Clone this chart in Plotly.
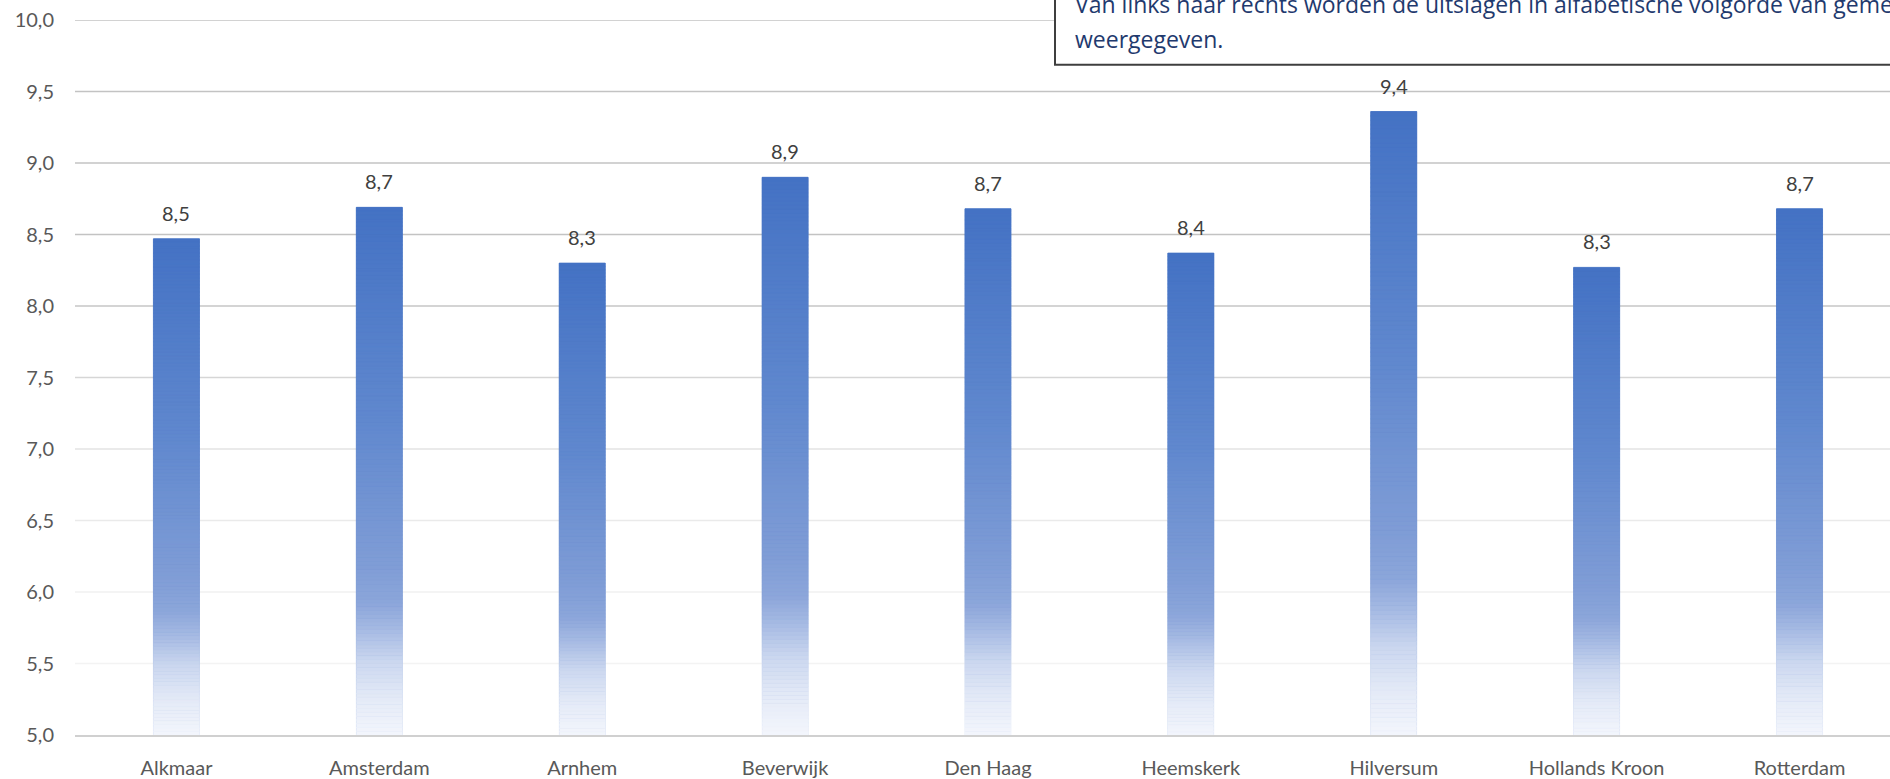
import plotly.graph_objects as go

# ---------------- data ----------------
gemeenten = ["Alkmaar", "Amsterdam", "Arnhem", "Beverwijk", "Den Haag",
             "Heemskerk", "Hilversum", "Hollands Kroon", "Rotterdam"]
cijfers = [8.47, 8.69, 8.30, 8.90, 8.68, 8.37, 9.36, 8.27, 8.68]
y_ticks = [5.0, 5.5, 6.0, 6.5, 7.0, 7.5, 8.0, 8.5, 9.0, 9.5, 10.0]
toelichting_1 = "Van links naar rechts worden de uitslagen in alfabetische volgorde van gemeenten"
toelichting_2 = "weergegeven."

# ---------------- style ----------------
W, H = 1890, 779
ML, MR, MT, MB = 75, 0, 20, 42
Y_MIN, Y_MAX = 5.0, 10.0
BAR_W = 0.227
FONT = "Lato, 'Liberation Sans', sans-serif"
BOX_FONT = "'Open Sans', 'Noto Sans', sans-serif"
# gradient stops: (fraction of bar height from bottom, rgb)
grad_stops = [(0.00, (243, 246, 252)), (0.07, (228, 234, 247)), (0.14, (203, 215, 239)),
              (0.20, (166, 186, 227)), (0.25, (140, 166, 218)), (0.32, (128, 157, 214)),
              (0.60, (96, 136, 206)), (1.00, (68, 114, 196))]
grid_colors = {5.5: "#F3F3F3", 6.0: "#F0F0F0", 6.5: "#EAEAEA", 7.0: "#E3E3E3",
               7.5: "#D6D6D6", 8.0: "#C6C6C6", 8.5: "#C3C3C3", 9.0: "#C3C3C3",
               9.5: "#C3C3C3", 10.0: "#C3C3C3"}
N_SEG = 140


def grad_color(f):
    for (f0, c0), (f1, c1) in zip(grad_stops[:-1], grad_stops[1:]):
        if f0 <= f <= f1:
            t = (f - f0) / (f1 - f0) if f1 > f0 else 0
            c = [round(a + (b - a) * t) for a, b in zip(c0, c1)]
            return "rgb(%d,%d,%d)" % tuple(c)
    return "rgb(%d,%d,%d)" % grad_stops[-1][1]


fig = go.Figure()

# main bars (solid)
fig.add_trace(go.Bar(x=gemeenten, y=cijfers, width=BAR_W,
                     marker=dict(color="#4472C4", line=dict(width=0)),
                     hovertemplate="%{x}: %{y:.1f}<extra></extra>"))

# gradient overlay built from the bar values
for k in range(N_SEG):
    f = (k + 0.5) / N_SEG
    col = grad_color(f)
    bases = [Y_MIN + k * (v - Y_MIN) / N_SEG for v in cijfers]
    heights = [(v - Y_MIN) / N_SEG for v in cijfers]
    fig.add_trace(go.Bar(x=gemeenten, y=heights, base=bases, width=BAR_W,
                         marker=dict(color=col, line=dict(width=0.8, color=col)),
                         hoverinfo="skip", showlegend=False))

# data labels
for g, v in zip(gemeenten, cijfers):
    fig.add_annotation(x=g, y=v, xref="x", yref="y", text=f"{v:.1f}".replace(".", ","),
                       showarrow=False, yanchor="bottom", yshift=12,
                       font=dict(family=FONT, size=20, color="#404040"))

# gridlines with fading colours
shapes = []
for t in y_ticks:
    if t == Y_MIN:
        continue
    shapes.append(dict(type="line", xref="paper", yref="y", x0=0, x1=1, y0=t, y1=t,
                       line=dict(color=grid_colors[t], width=1.6), layer="below"))

plot_w = W - ML - MR
plot_h = H - MT - MB


def px_x(x):
    return (x - ML) / plot_w


def px_y(y):
    return (H - MB - y) / plot_h


# explanation box (cut off at the right/top edge)
shapes.append(dict(type="rect", xref="paper", yref="paper",
                   x0=px_x(1055), x1=px_x(1900), y0=px_y(65), y1=px_y(-20),
                   fillcolor="white", line=dict(color="#3F3F3F", width=2), layer="above"))
fig.update_layout(shapes=shapes)

fig.add_annotation(xref="paper", yref="paper", x=px_x(1073), y=px_y(4), xanchor="left",
                   yanchor="middle", text=toelichting_1, showarrow=False,
                   font=dict(family=BOX_FONT, size=23, color="#1F3A6E"))
fig.add_annotation(xref="paper", yref="paper", x=px_x(1073), y=px_y(39), xanchor="left",
                   yanchor="middle", text=toelichting_2, showarrow=False,
                   font=dict(family=BOX_FONT, size=23, color="#1F3A6E"))

fig.update_layout(
    width=W, height=H,
    margin=dict(l=ML, r=MR, t=MT, b=MB, pad=0),
    paper_bgcolor="white", plot_bgcolor="white",
    barmode="overlay", showlegend=False,
    separators=",.",
    font=dict(family=FONT, size=20, color="#595959"),
    xaxis=dict(type="category", range=[-0.5, 8.446], showgrid=False,
               showline=True, linecolor="#D0D0D0", linewidth=1.6,
               ticks="", ticklabelstandoff=14,
               tickfont=dict(family=FONT, size=20, color="#595959")),
    yaxis=dict(range=[Y_MIN, Y_MAX], tickvals=y_ticks, tickformat=".1f",
               showgrid=False, zeroline=False, showline=False, ticks="",
               ticklabelstandoff=20,
               tickfont=dict(family=FONT, size=20, color="#595959")),
)

fig.write_html("out.html", config={"displayModeBar": False},
               post_script="document.body.style.margin='0';")
